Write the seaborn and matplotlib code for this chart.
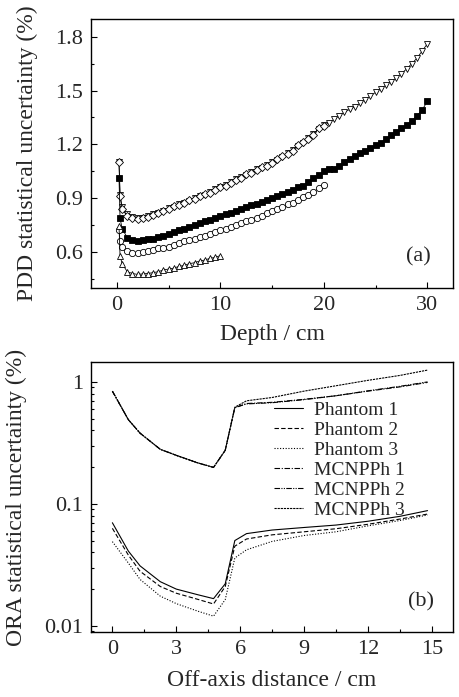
import numpy as np
import pandas as pd
import matplotlib
matplotlib.use('Agg')
import matplotlib.pyplot as plt
import seaborn as sns
from matplotlib.ticker import MultipleLocator, LogLocator, FixedFormatter, FixedLocator, NullFormatter

# ---- (a) PDD statistical uncertainty vs depth ----
depth_30 = [0.2, 0.3, 0.5, 1.0, 1.5, 2.0, 2.5, 3.0, 3.5, 4.0, 4.5, 5.0, 5.5, 6.0, 6.5, 7.0, 7.5,
            8.0, 8.5, 9.0, 9.5, 10.0, 10.5, 11.0, 11.5, 12.0, 12.5, 13.0, 13.5, 14.0, 14.5, 15.0,
            15.5, 16.0, 16.5, 17.0, 17.5, 18.0, 18.5, 19.0, 19.5, 20.0, 20.5, 21.0, 21.5, 22.0,
            22.5, 23.0, 23.5, 24.0, 24.5, 25.0, 25.5, 26.0, 26.5, 27.0, 27.5, 28.0, 28.5, 29.0,
            29.5, 30.0]
depth_20 = depth_30[:42]
depth_10 = depth_30[:22]

pdd_tri_down = [1.10, 0.92, 0.85, 0.81, 0.795, 0.79, 0.79, 0.80, 0.81, 0.82, 0.83, 0.845, 0.85,
                0.865, 0.875, 0.885, 0.90, 0.91, 0.92, 0.935, 0.95, 0.96, 0.975, 0.99, 1.005,
                1.02, 1.03, 1.045, 1.06, 1.07, 1.085, 1.10, 1.115, 1.13, 1.15, 1.17, 1.19, 1.21,
                1.235, 1.26, 1.285, 1.31, 1.32, 1.34, 1.36, 1.38, 1.395, 1.41, 1.43, 1.45, 1.47,
                1.49, 1.51, 1.53, 1.55, 1.57, 1.595, 1.62, 1.65, 1.68, 1.72, 1.76]
pdd_square = [1.01, 0.79, 0.73, 0.68, 0.665, 0.66, 0.665, 0.67, 0.675, 0.685, 0.69, 0.70, 0.71,
              0.72, 0.73, 0.74, 0.75, 0.76, 0.77, 0.78, 0.79, 0.80, 0.81, 0.82, 0.83, 0.84, 0.85,
              0.86, 0.87, 0.88, 0.89, 0.90, 0.91, 0.925, 0.935, 0.945, 0.96, 0.97, 0.99, 1.01,
              1.03, 1.05, 1.06, 1.065, 1.08, 1.10, 1.12, 1.135, 1.15, 1.165, 1.18, 1.195, 1.21,
              1.23, 1.25, 1.27, 1.29, 1.31, 1.33, 1.36, 1.39, 1.44]
pdd_diamond = [1.10, 0.91, 0.84, 0.80, 0.79, 0.785, 0.79, 0.795, 0.805, 0.815, 0.83, 0.84, 0.855,
               0.86, 0.875, 0.89, 0.895, 0.91, 0.925, 0.93, 0.945, 0.965, 0.97, 0.985, 1.00, 1.015,
               1.035, 1.04, 1.055, 1.075, 1.08, 1.095, 1.12, 1.135, 1.145, 1.165, 1.195, 1.215,
               1.23, 1.255, 1.29, 1.305]
pdd_circle = [0.72, 0.66, 0.63, 0.605, 0.595, 0.595, 0.60, 0.605, 0.61, 0.62, 0.625, 0.63, 0.64,
              0.65, 0.66, 0.665, 0.675, 0.685, 0.69, 0.70, 0.71, 0.72, 0.73, 0.74, 0.75, 0.76,
              0.77, 0.78, 0.79, 0.80, 0.815, 0.83, 0.84, 0.85, 0.865, 0.875, 0.89, 0.905, 0.92,
              0.935, 0.955, 0.975]
pdd_tri_up = [0.745, 0.58, 0.535, 0.49, 0.48, 0.475, 0.478, 0.48, 0.485, 0.49, 0.50, 0.505, 0.51,
              0.52, 0.525, 0.535, 0.54, 0.55, 0.555, 0.565, 0.57, 0.58]

# ---- (b) ORA statistical uncertainty vs off-axis distance ----
off_axis = [0.0, 0.75, 1.3, 2.25, 3.0, 4.0, 4.75, 5.3, 5.75, 6.3, 7.5, 9.0, 10.5, 12.0, 13.5, 14.8]
phantom_1 = [0.070, 0.041, 0.031, 0.023, 0.020, 0.018, 0.0167, 0.0221, 0.050, 0.057, 0.061,
             0.064, 0.067, 0.072, 0.079, 0.088]
phantom_2 = [0.063, 0.038, 0.028, 0.021, 0.0185, 0.0165, 0.0151, 0.021, 0.045, 0.0515, 0.0557,
             0.059, 0.0625, 0.068, 0.075, 0.0825]
phantom_3 = [0.049, 0.0327, 0.024, 0.0175, 0.0152, 0.0132, 0.0120, 0.0164, 0.036, 0.042, 0.0492,
             0.055, 0.059, 0.066, 0.073, 0.081]
mcnp_1 = [0.84, 0.49, 0.38, 0.28, 0.25, 0.217, 0.199, 0.275, 0.615, 0.665, 0.68, 0.72, 0.77,
          0.84, 0.91, 0.99]
mcnp_2 = [0.84, 0.49, 0.38, 0.28, 0.25, 0.217, 0.199, 0.275, 0.615, 0.66, 0.675, 0.715, 0.77,
          0.845, 0.92, 1.0]
mcnp_3 = [0.84, 0.49, 0.38, 0.28, 0.25, 0.217, 0.199, 0.275, 0.62, 0.70, 0.745, 0.84, 0.93,
          1.03, 1.13, 1.25]
ora_labels = ['Phantom 1', 'Phantom 2', 'Phantom 3', 'MCNPPh 1', 'MCNPPh 2', 'MCNPPh 3']

sns.set_style('ticks')
plt.rcParams['font.family'] = ['Liberation Serif', 'DejaVu Serif']
plt.rcParams['mathtext.fontset'] = 'stix'

fig = plt.figure(figsize=(4.6, 6.97), dpi=100)
ax1 = fig.add_axes([0.198, 0.587, 0.787, 0.386])
ax2 = fig.add_axes([0.198, 0.0933, 0.787, 0.387])

# panel (a)
mk = dict(color='black', linewidth=0.6, markersize=5, markeredgewidth=0.6,
          markeredgecolor='black', estimator=None, sort=False)
sns.lineplot(x=depth_30, y=pdd_tri_down, marker='v', markerfacecolor='white', ax=ax1, **mk)
sns.lineplot(x=depth_20, y=pdd_diamond, marker='D', markerfacecolor='white', ax=ax1,
             **{**mk, 'markersize': 4})
sns.lineplot(x=depth_30, y=pdd_square, marker='s', markerfacecolor='black', ax=ax1,
             **{**mk, 'markersize': 4.5})
sns.lineplot(x=depth_20, y=pdd_circle, marker='o', markerfacecolor='white', ax=ax1,
             **{**mk, 'markersize': 4.5})
sns.lineplot(x=depth_10, y=pdd_tri_up, marker='^', markerfacecolor='white', ax=ax1, **mk)

ax1.set_xlim(-2.5, 32.5)
ax1.set_ylim(0.4, 1.9)
ax1.xaxis.set_major_locator(MultipleLocator(10))
ax1.xaxis.set_minor_locator(MultipleLocator(5))
ax1.yaxis.set_major_locator(FixedLocator([0.6, 0.9, 1.2, 1.5, 1.8]))
ax1.yaxis.set_major_formatter(FixedFormatter(['0.6', '0.9', '1.2', '1.5', '1.8']))
ax1.yaxis.set_minor_locator(FixedLocator([0.45, 0.75, 1.05, 1.35, 1.65]))
ax1.set_xlabel('Depth / cm', fontsize=17, labelpad=6)
ax1.set_ylabel('PDD statistical uncertainty (%)', fontsize=17, labelpad=12)
ax1.text(0.905, 0.115, '(a)', transform=ax1.transAxes, fontsize=16, ha='center', va='center')

# panel (b)
ora_series = [phantom_1, phantom_2, phantom_3, mcnp_1, mcnp_2, mcnp_3]
ora_styles = ['-', (0, (4, 2)), (0, (1, 1.5)), (0, (5, 1.5, 1, 1.5)),
              (0, (5, 1.2, 1, 1.2, 1, 1.2)), (0, (2, 0.8))]
for vals, lab, ls in zip(ora_series, ora_labels, ora_styles):
    sns.lineplot(x=off_axis, y=vals, ax=ax2, color='black', linewidth=0.8, linestyle=ls,
                 label=lab, estimator=None, sort=False)

ax2.set_yscale('log')
ax2.set_xlim(-1, 16)
ax2.set_ylim(0.0089, 1.45)
ax2.xaxis.set_major_locator(MultipleLocator(3))
ax2.xaxis.set_minor_locator(MultipleLocator(1.5))
ax2.yaxis.set_major_locator(FixedLocator([0.01, 0.1, 1]))
ax2.yaxis.set_major_formatter(FixedFormatter(['0.01', '0.1', '1']))
ax2.yaxis.set_minor_locator(LogLocator(base=10, subs=np.arange(2, 10)))
ax2.yaxis.set_minor_formatter(NullFormatter())
ax2.set_xlabel('Off-axis distance / cm', fontsize=17, labelpad=8)
ax2.set_ylabel('ORA statistical uncertainty (%)', fontsize=17, labelpad=12)
ax2.text(0.91, 0.11, '(b)', transform=ax2.transAxes, fontsize=16, ha='center', va='center')
ax2.legend(loc='upper left', bbox_to_anchor=(0.505, 0.855), frameon=False, fontsize=14,
           handlelength=1.5, handletextpad=0.55, labelspacing=0.12, borderpad=0,
           borderaxespad=0)

for ax in (ax1, ax2):
    ax.tick_params(which='both', direction='in', labelsize=16, color='black')
    ax.tick_params(which='major', length=4, width=0.8, pad=6)
    ax.tick_params(which='minor', length=2.5, width=0.8)
    ax.tick_params(axis='y', which='minor', left=True)
    for s in ax.spines.values():
        s.set_linewidth(1.0)
        s.set_color('black')

fig.align_ylabels([ax1, ax2])
fig.savefig('out.png', dpi=100)
